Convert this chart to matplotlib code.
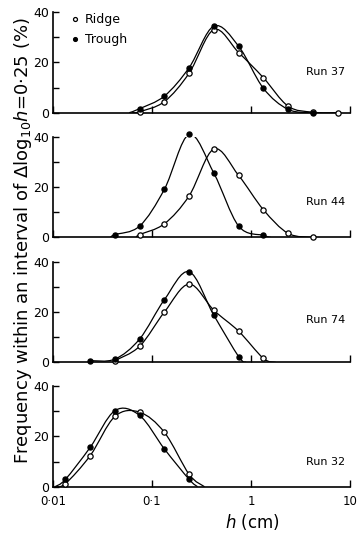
import matplotlib.pyplot as plt
import numpy as np
from matplotlib.path import Path
from matplotlib.patches import PathPatch

plt.rcParams['font.family'] = ['DejaVu Sans']
plt.rcParams['mathtext.fontset'] = 'dejavusans'

# bin centres are log10 h (cm), intervals of width 0.25
run_names = ['Run 37', 'Run 44', 'Run 74', 'Run 32']

ridge_logh = [
    [-1.125, -0.875, -0.625, -0.375, -0.125, 0.125, 0.375, 0.625, 0.875],
    [-1.125, -0.875, -0.625, -0.375, -0.125, 0.125, 0.375, 0.625],
    [-1.375, -1.125, -0.875, -0.625, -0.375, -0.125, 0.125],
    [-1.875, -1.625, -1.375, -1.125, -0.875, -0.625],
]
ridge_freq = [
    [0.4, 4.4, 15.7, 33.0, 23.9, 13.9, 2.6, 0.2, 0.0],
    [1.1, 5.4, 16.5, 35.1, 24.6, 11.0, 1.6, 0.0],
    [0.7, 6.4, 20.0, 31.1, 20.7, 12.4, 1.6],
    [1.2, 12.3, 27.9, 29.6, 21.6, 4.9],
]
trough_logh = [
    [-1.125, -0.875, -0.625, -0.375, -0.125, 0.125, 0.375, 0.625],
    [-1.375, -1.125, -0.875, -0.625, -0.375, -0.125, 0.125],
    [-1.625, -1.375, -1.125, -0.875, -0.625, -0.375, -0.125],
    [-1.875, -1.625, -1.375, -1.125, -0.875, -0.625],
]
trough_freq = [
    [1.6, 6.6, 17.9, 34.4, 26.4, 9.7, 1.3, 0.0],
    [1.1, 4.5, 19.1, 40.9, 25.5, 4.5, 0.8],
    [0.7, 1.3, 9.3, 24.9, 36.0, 18.7, 2.3],
    [2.9, 15.6, 30.2, 28.3, 15.0, 2.9],
]
# where the hand-drawn curves leave / meet the axis (log10 h), None = at last point
ridge_tails = [(-1.2, None), (-1.16, None), (None, 0.25), (-1.98, -0.47)]
trough_tails = [(-1.23, None), (-1.42, 0.2), (None, -0.05), (-1.98, -0.54)]

run_label_y = [16.3, 14.0, 16.7, 9.7]

xticks = [0.01, 0.1, 1, 10]
xticklabels = ['0·01', '0·1', '1', '10']


def smooth_curve(ax, logx, y, tails):
    logx = list(logx)
    y = list(y)
    if tails[0] is not None:
        logx = [tails[0]] + logx
        y = [0.0] + y
    if tails[1] is not None:
        logx = logx + [tails[1]]
        y = y + [0.0]
    p = np.column_stack([logx, y])
    pts = np.vstack([p[0], p, p[-1]])
    verts = [p[0]]
    codes = [Path.MOVETO]
    for i in range(1, len(pts) - 2):
        p0, p1, p2, p3 = pts[i - 1], pts[i], pts[i + 1], pts[i + 2]
        verts += [p1 + (p2 - p0) / 6, p2 - (p3 - p1) / 6, p2]
        codes += [Path.CURVE4] * 3
    verts = np.array(verts)
    verts[:, 0] = 10 ** verts[:, 0]
    ax.add_patch(PathPatch(Path(verts, codes), fill=False, lw=0.9, color='k'))


W, H = 358, 534
fig = plt.figure(figsize=(W / 100, H / 100), dpi=100)

tops = [12, 136.7, 261.7, 386]
left, width, height = 53, 297, 100.7

for i in range(4):
    ax = fig.add_axes([left / W, 1 - (tops[i] + height) / H, width / W, height / H])
    ax.set_xscale('log')
    ax.set_xlim(0.01, 10)
    ax.set_ylim(0, 40)

    smooth_curve(ax, ridge_logh[i], ridge_freq[i], ridge_tails[i])
    smooth_curve(ax, trough_logh[i], trough_freq[i], trough_tails[i])
    ax.plot(10 ** np.array(ridge_logh[i]), ridge_freq[i], 'o', ms=3.8, mfc='white',
            mec='k', mew=0.9, clip_on=False, zorder=3, label='Ridge')
    ax.plot(10 ** np.array(trough_logh[i]), trough_freq[i], 'o', ms=3.6, mfc='k',
            mec='k', clip_on=False, zorder=4, label='Trough')

    for s in ['top', 'right']:
        ax.spines[s].set_visible(False)
    for s in ['left', 'bottom']:
        ax.spines[s].set_linewidth(1.2)

    ax.set_yticks([0, 20, 40])
    ax.set_yticks([10, 30], minor=True)
    ax.tick_params(axis='y', which='both', direction='in', length=4, width=1,
                   labelsize=9, pad=3)
    ax.set_xticks(xticks)
    ax.xaxis.set_minor_locator(plt.NullLocator())
    ax.tick_params(axis='x', direction='in', length=5, width=1, labelsize=8.5, pad=6)
    if i == 3:
        ax.set_xticklabels(xticklabels)
    else:
        ax.set_xticklabels([])

    ax.text(0.985, run_label_y[i] / 40, run_names[i], transform=ax.transAxes,
            ha='right', va='center', fontsize=8)

    if i == 0:
        ax.legend(loc='upper left', bbox_to_anchor=(0.045, 1.04), frameon=False,
                  fontsize=9, handlelength=0.6, handletextpad=0.5,
                  labelspacing=0.6, markerscale=0.75, borderaxespad=0)

fig.text(23 / W, 1 - 241 / H,
         r'Frequency within an interval of $\mathit{\Delta}$log$_{10}$$h$=0·25 (%)',
         rotation=90, ha='center', va='center', fontsize=13)
fig.text(252 / W, 1 - 522 / H, r'$h$ (cm)', ha='center', va='center', fontsize=12)

fig.savefig('out.png', dpi=100)
